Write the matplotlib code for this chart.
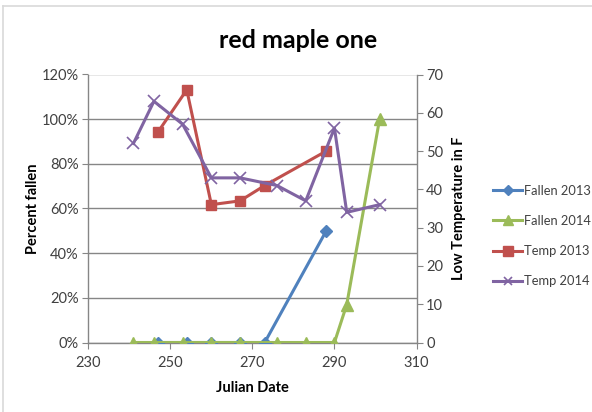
import matplotlib
matplotlib.use("Agg")
import matplotlib.pyplot as plt
from matplotlib.ticker import FuncFormatter, MultipleLocator
from matplotlib.lines import Line2D

plt.rcParams['font.family'] = ['Lato', 'DejaVu Sans']

# Julian dates of observations
days_2013 = [247, 254, 260, 267, 273, 288]
days_2014 = [241, 246, 253, 260, 267, 276, 283, 290, 293, 301]

# Fraction of leaves fallen
fallen_2013 = [0.0, 0.0, 0.0, 0.0, 0.0, 0.50]
fallen_2014 = [0.0, 0.0, 0.0, 0.0, 0.0, 0.0, 0.0, 0.0, 0.17, 1.00]

# Low temperatures (F)
temp_2013 = [55, 66, 36, 37, 41, 50]
temp_2014 = [52, 63, 57, 43, 43, 41, 37, 56, 34, 36]

x_ticks = [230, 250, 270, 290, 310]

BLUE = '#4F81BD'
RED = '#C0504D'
GREEN = '#9BBB59'
PURPLE = '#8064A2'
AXIS = '#868686'
TEXT = '#404040'

fig = plt.figure(figsize=(5.92, 4.12), dpi=100)
ax = fig.add_axes([88.3 / 592, 1 - 342.5 / 412, (416.5 - 88.3) / 592, (342.5 - 74.5) / 412])
ax2 = ax.twinx()

ax.plot(days_2013, fallen_2013, color=BLUE, lw=2.2, marker='D', ms=6,
        label='Fallen 2013', zorder=3)
ax.plot(days_2014, fallen_2014, color=GREEN, lw=2.2, marker='^', ms=8.5,
        label='Fallen 2014', zorder=4)
ax2.plot(days_2013, temp_2013, color=RED, lw=2.2, marker='s', ms=7.5,
         label='Temp 2013', zorder=3)
ax2.plot(days_2014, temp_2014, color=PURPLE, lw=2.2, marker='x', ms=8,
         mew=1.2, label='Temp 2014', zorder=4)

ax.set_xlim(230, 310)
ax.set_ylim(0, 1.2)
ax2.set_ylim(0, 70)
ax.set_xticks(x_ticks)
ax.yaxis.set_major_locator(MultipleLocator(0.2))
ax2.yaxis.set_major_locator(MultipleLocator(10))
ax.yaxis.set_major_formatter(FuncFormatter(lambda v, p: f"{v*100:.0f}%"))

ax.grid(axis='y', color=AXIS, lw=1.0)
ax.set_axisbelow(True)

for a in (ax, ax2):
    for s in a.spines.values():
        s.set_visible(False)
ax.spines['left'].set_visible(True)
ax.spines['bottom'].set_visible(True)
ax2.spines['right'].set_visible(True)
for s in (ax.spines['left'], ax.spines['bottom'], ax2.spines['right']):
    s.set_color(AXIS)
    s.set_linewidth(1.0)

ax.tick_params(axis='y', direction='out', length=4, color=AXIS,
               labelsize=10.5, labelcolor=TEXT, pad=3)
ax.tick_params(axis='x', direction='out', length=4, color=AXIS,
               labelsize=10.5, labelcolor=TEXT, pad=6)
ax2.tick_params(axis='y', direction='out', length=4, color=AXIS,
                labelsize=10.5, labelcolor=TEXT, pad=3)

ax.set_xlabel('Julian Date', fontsize=10.5, fontweight='bold', labelpad=8)
ax.set_ylabel('Percent fallen', fontsize=10.5, fontweight='bold', labelpad=1)
ax2.set_ylabel('Low Temperature in F', fontsize=10.5, fontweight='bold', labelpad=6)

fig.text(298 / 592, 1 - 40 / 412, 'red maple one', ha='center', va='center',
         fontsize=18, fontweight='bold')

handles = [Line2D([], [], color=BLUE, lw=2.2, marker='D', ms=5),
           Line2D([], [], color=GREEN, lw=2.2, marker='^', ms=7),
           Line2D([], [], color=RED, lw=2.2, marker='s', ms=6.5),
           Line2D([], [], color=PURPLE, lw=2.2, marker='x', ms=6, mew=1.2)]
labels = ['Fallen 2013', 'Fallen 2014', 'Temp 2013', 'Temp 2014']
fig.legend(handles, labels, loc='center left',
           bbox_to_anchor=(487 / 592, 1 - 236 / 412), frameon=False,
           fontsize=9.3, handlelength=2.2, handletextpad=0.15,
           labelspacing=1.4, borderpad=0, labelcolor=TEXT)

# Chart frame
fig.add_artist(Line2D([3 / 592, 3 / 592], [0, 1 - 6 / 412], color='#D9D9D9',
                      lw=1.2, transform=fig.transFigure))
fig.add_artist(Line2D([3 / 592, 1], [1 - 6 / 412, 1 - 6 / 412], color='#D9D9D9',
                      lw=1.2, transform=fig.transFigure))

fig.savefig('out.png', dpi=100)
